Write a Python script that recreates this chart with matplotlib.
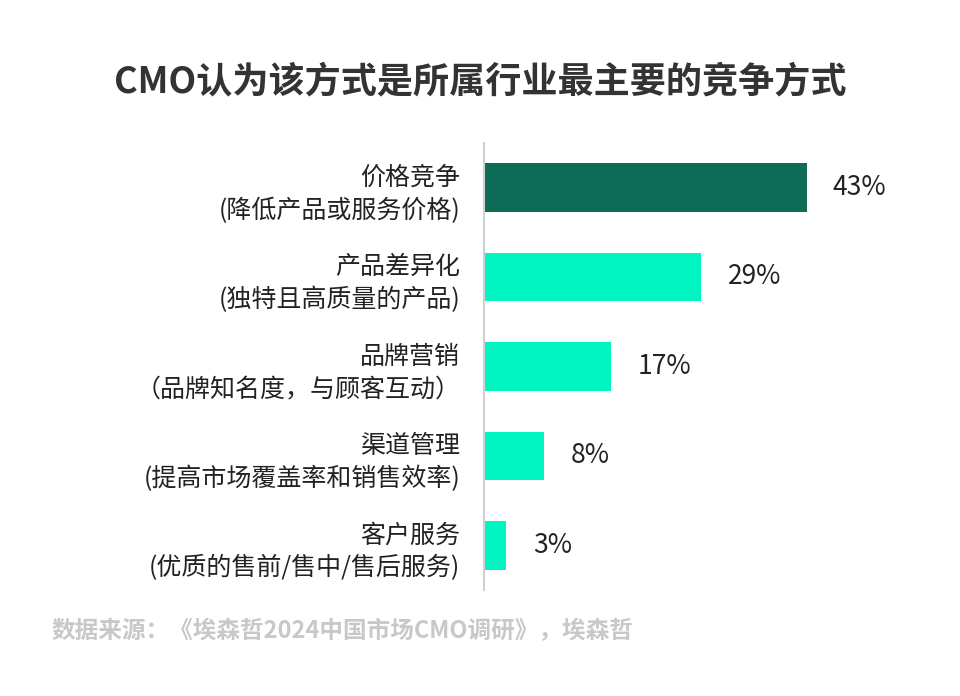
import matplotlib
matplotlib.use("Agg")
import matplotlib.pyplot as plt

plt.rcParams['font.family'] = ['Noto Sans CJK SC', 'DejaVu Sans']

categories = ["价格竞争\n(降低产品或服务价格)",
              "产品差异化\n(独特且高质量的产品)",
              "品牌营销\n（品牌知名度，与顾客互动）",
              "渠道管理\n(提高市场覆盖率和销售效率)",
              "客户服务\n(优质的售前/售中/售后服务)"]
values = [43, 29, 17, 8, 3]
colors = ["#0d6b56", "#00f5c0", "#00f5c0", "#00f5c0", "#00f5c0"]

fig = plt.figure(figsize=(9.6, 6.96), dpi=100)
ax = fig.add_axes([0.504, 0.152, 0.469, 0.643])
y = list(range(len(values)))
ax.barh(y, values, height=0.54, color=colors)
ax.set_xlim(0, 60)
ax.set_ylim(4.5, -0.5)
for s in ["top", "right", "bottom"]:
    ax.spines[s].set_visible(False)
ax.spines["left"].set_color("#d0d0d0")
ax.spines["left"].set_linewidth(1.5)
ax.set_xticks([])
ax.set_yticks(y)
ax.set_yticklabels(categories, fontsize=18, color="#222222", linespacing=1.35, ha="right")
ax.tick_params(axis="y", length=0, pad=17)
for yi, v in zip(y, values):
    ax.annotate(f"{v}%", (v, yi), xytext=(19, 0), textcoords="offset points",
                va="center", ha="left", fontsize=19, color="#222222", fontweight="light")

fig.text(0.5, 0.882, "CMO认为该方式是所属行业最主要的竞争方式", ha="center", va="center",
         fontsize=26, fontweight="bold", color="#333333")
fig.text(0.054, 0.094, "数据来源：《埃森哲2024中国市场CMO调研》，埃森哲", ha="left", va="center",
         fontsize=17, fontweight="bold", color="#c8c8c8")
fig.savefig("out.png", dpi=100, facecolor="white")
